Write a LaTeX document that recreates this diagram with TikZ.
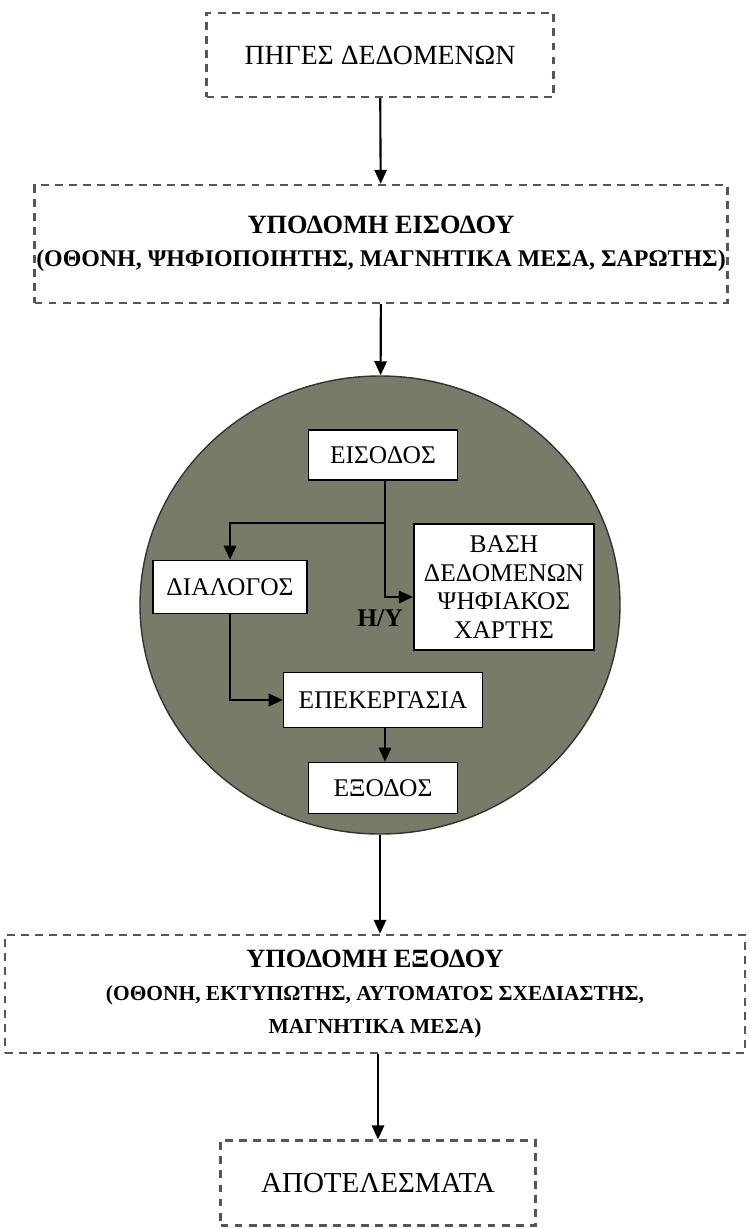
\documentclass[tikz,border=0pt]{standalone}
\usepackage{fontspec}
\setmainfont{Liberation Serif}
\usetikzlibrary{arrows.meta,shapes.geometric}
\definecolor{olivegray}{RGB}{122,122,104}
\definecolor{dashgray}{RGB}{85,85,95}

\begin{document}
\begin{tikzpicture}[x=0.02cm,y=-0.02cm,
    dashbox/.style={draw=dashgray,line width=1.3pt,dash pattern=on 4.5pt off 3.5pt,align=center,inner sep=0pt},
    whitebox/.style={draw,thick,fill=white,align=center,inner sep=0pt,font=\fontsize{14.5}{16.4}\selectfont},
    arr/.style={-{Triangle[length=8pt,width=7pt]},line width=1.2pt}]
  \useasboundingbox (0,0) rectangle (748,1229);
%  \draw[style=help lines,step=50] (0,0) grid (748,1229);
  % outer chain
  \node[dashbox,minimum width=347*0.02cm,minimum height=84*0.02cm,font=\fontsize{15.8}{18}\selectfont]
    (pigi) at (380,55) {ΠΗΓΕΣ ΔΕΔΟΜΕΝΩΝ};
  \node[dashbox,minimum width=693*0.02cm,minimum height=118*0.02cm,font=\bfseries\fontsize{13.6}{19}\selectfont]
    (ypoeis) at (381,244) {{\fontsize{15}{19}\selectfont ΥΠΟΔΟΜΗ ΕΙΣΟΔΟΥ}\\(ΟΘΟΝΗ, ΨΗΦΙΟΠΟΙΗΤΗΣ, ΜΑΓΝΗΤΙΚΑ ΜΕΣΑ, ΣΑΡΩΤΗΣ)};
  \node[draw=black!80,thick,fill=olivegray,ellipse,minimum width=480*0.02cm,minimum height=458*0.02cm,inner sep=0pt]
    (hy) at (380,605) {};
  \node[dashbox,minimum width=740*0.02cm,minimum height=118*0.02cm,font=\bfseries\fontsize{12.2}{18.7}\selectfont]
    (ypoex) at (375,994) {{\fontsize{15}{18.7}\selectfont ΥΠΟΔΟΜΗ ΕΞΟΔΟΥ}\\(ΟΘΟΝΗ, ΕΚΤΥΠΩΤΗΣ, ΑΥΤΟΜΑΤΟΣ ΣΧΕΔΙΑΣΤΗΣ,\\ΜΑΓΝΗΤΙΚΑ ΜΕΣΑ)};
  \node[dashbox,minimum width=315*0.02cm,minimum height=85*0.02cm,font=\fontsize{16.5}{18}\selectfont]
    (apot) at (378,1183) {ΑΠΟΤΕΛΕΣΜΑΤΑ};
  % inside the circle
  \node[whitebox,minimum width=149*0.02cm,minimum height=50*0.02cm] (eisodos) at (383,455) {ΕΙΣΟΔΟΣ};
  \node[whitebox,minimum width=154*0.02cm,minimum height=53*0.02cm] (dialogos) at (230,587) {ΔΙΑΛΟΓΟΣ};
  \node[whitebox,minimum width=180*0.02cm,minimum height=126*0.02cm] (vasi) at (504,587) {ΒΑΣΗ\\ΔΕΔΟΜΕΝΩΝ\\ΨΗΦΙΑΚΟΣ\\ΧΑΡΤΗΣ};
  \node[whitebox,minimum width=199*0.02cm,minimum height=55*0.02cm] (epex) at (383,700) {ΕΠΕΚΕΡΓΑΣΙΑ};
  \node[whitebox,minimum width=149*0.02cm,minimum height=51*0.02cm] (exodos) at (383,788) {ΕΞΟΔΟΣ};
  \node[font=\bfseries\fontsize{14.5}{15}\selectfont] (hylabel) at (380,618) {Η/Υ};
  \coordinate (br) at (385,523);
  \coordinate (vasiin) at (413,597);
  % connectors
  \draw[arr] (pigi) -- (ypoeis);
  \draw[arr] (ypoeis) -- (hy);
  \draw[arr] (eisodos.south -| br) |- (vasiin);
  \draw[arr] (br) -| (dialogos.north);
  \draw[arr] (dialogos.south) |- (epex.west);
  \draw[arr] (epex.south -| br) -- (exodos.north -| br);
  \draw[arr] (hy.south) -- (ypoex.north -| hy.south);
  \draw[arr] (ypoex.south -| apot.north) -- (apot.north);
\end{tikzpicture}
\end{document}
